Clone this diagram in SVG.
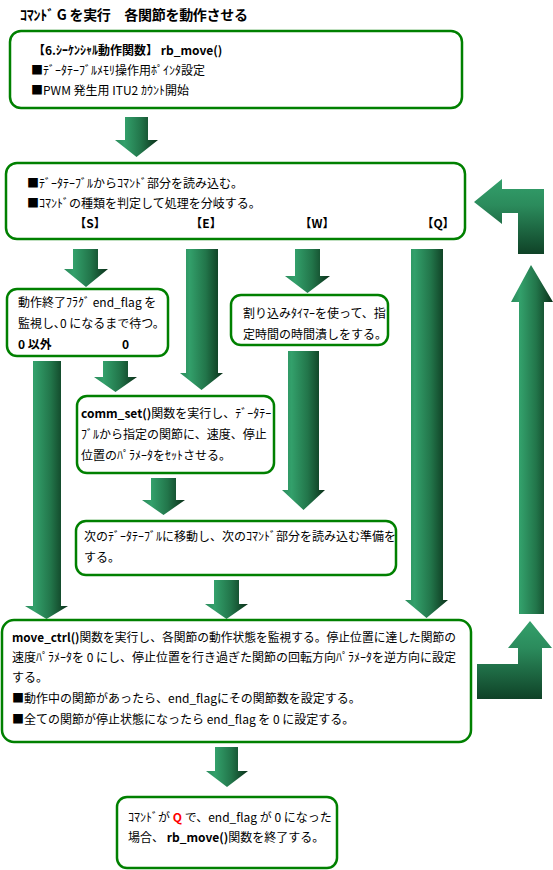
<svg xmlns="http://www.w3.org/2000/svg" width="553" height="870" viewBox="0 0 553 870">
<style>
.box{fill:#fff;stroke:#008000;stroke-width:2.5}
.t{font-family:"Noto Sans CJK JP","Noto Sans CJK SC",sans-serif;font-size:12px;fill:#000}
.b{font-weight:bold}
.title{font-family:"Noto Sans CJK JP",sans-serif;font-size:14px;font-weight:bold;fill:#000}
.ah{fill:url(#gh)}
.av{fill:url(#gv)}
</style>
<defs>
<linearGradient id="gh" x1="0" y1="0" x2="1" y2="0">
<stop offset="0" stop-color="#2b8b5c"/>
<stop offset="0.22" stop-color="#33a06b"/>
<stop offset="0.6" stop-color="#22754a"/>
<stop offset="1" stop-color="#0a3019"/>
</linearGradient>
<linearGradient id="gv" x1="0" y1="0" x2="0" y2="1">
<stop offset="0" stop-color="#33a06b"/>
<stop offset="0.35" stop-color="#2b8b5c"/>
<stop offset="1" stop-color="#0f4227"/>
</linearGradient>
</defs>
<rect width="553" height="870" fill="#fff"/>

<text class="title" x="20" y="20" textLength="228" lengthAdjust="spacing">ｺﾏﾝﾄﾞ G を実行　各関節を動作させる</text>

<g id="connectors">
<polygon class="ah" points="125,117 148,117 148,140 158,140 136.5,157 115,140 125,140"/>
<polygon class="ah" points="73,249 98,249 98,269 108,269 86,287 64,269 73,269"/>
<polygon class="ah" points="186,249 218,249 218,373 223,373 201.5,390 180,373 186,373"/>
<polygon class="ah" points="295,249 320,249 320,276 330,276 307.5,293 285,276 295,276"/>
<polygon class="ah" points="411,249 443,249 443,600 448,600 426.5,618 405,600 411,600"/>
<polygon class="ah" points="33,361 61,361 61,606 68,606 46.5,619 25,606 33,606"/>
<polygon class="ah" points="103,361 128,361 128,377 137,377 115.5,392 94,377 103,377"/>
<polygon class="ah" points="288,351 319,351 319,490 325,490 303.5,510 282,490 288,490"/>
<polygon class="ah" points="151,478 176,478 176,500 185,500 163.5,515 142,500 151,500"/>
<polygon class="ah" points="214,580 239,580 239,604 248,604 226.5,619 205,604 214,604"/>
<polygon class="ah" points="215,747 238,747 238,771 248,771 227,787 206,771 215,771"/>
<polygon class="av" points="474,202 502,179 502,189 544,189 544,254 518,254 518,213 502,213 502,224"/>
<polygon class="ah" points="531,265 553,302 544,302 544,614 519,614 519,302 511,302"/>
<polygon class="av" points="530,621 552,648 542,648 542,699 477,699 477,664 518,664 518,648 508,648"/>
</g>

<g id="n1">
<rect class="box" x="10" y="31" width="452" height="77" rx="11"/>
<text class="t b" x="33" y="55">【6.ｼｰｹﾝｼｬﾙ動作関数】 rb_move()</text>
<text class="t" x="31" y="75">■ﾃﾞｰﾀﾃｰﾌﾞﾙﾒﾓﾘ操作用ﾎﾟｲﾝﾀ設定</text>
<text class="t" x="31" y="95">■PWM 発生用 ITU2 ｶｳﾝﾄ開始</text>
</g>

<g id="n2">
<rect class="box" x="6" y="163" width="459" height="76" rx="11"/>
<text class="t" x="27" y="188">■ﾃﾞｰﾀﾃｰﾌﾞﾙからｺﾏﾝﾄﾞ部分を読み込む。</text>
<text class="t" x="27" y="208">■ｺﾏﾝﾄﾞの種類を判定して処理を分岐する。</text>
<text class="t b" x="90" y="228" text-anchor="middle">【S】</text>
<text class="t b" x="206" y="228" text-anchor="middle">【E】</text>
<text class="t b" x="317" y="228" text-anchor="middle">【W】</text>
<text class="t b" x="438" y="228" text-anchor="middle">【Q】</text>
</g>

<g id="nS">
<rect class="box" x="7" y="289" width="161" height="67" rx="10"/>
<text class="t" x="18" y="307">動作終了ﾌﾗｸﾞ end_flag を</text>
<text class="t" x="18" y="328">監視し､0 になるまで待つ。</text>
<text class="t b" x="18" y="349">0 以外</text>
<text class="t b" x="122" y="349">0</text>
</g>

<g id="nW">
<rect class="box" x="231" y="295" width="157" height="50" rx="10"/>
<text class="t" x="243" y="318">割り込みﾀｲﾏｰを使って、指</text>
<text class="t" x="243" y="339">定時間の時間潰しをする。</text>
</g>

<g id="nC">
<rect class="box" x="77" y="396" width="197" height="77" rx="10"/>
<text class="t" x="81" y="418"><tspan class="b">comm_set()</tspan>関数を実行し、ﾃﾞｰﾀﾃｰ</text>
<text class="t" x="81" y="439">ﾌﾞﾙから指定の関節に、速度、停止</text>
<text class="t" x="81" y="460">位置のﾊﾟﾗﾒｰﾀをｾｯﾄさせる。</text>
</g>

<g id="nN">
<rect class="box" x="76" y="521" width="320" height="54" rx="10"/>
<text class="t" x="84" y="541">次のﾃﾞｰﾀﾃｰﾌﾞﾙに移動し、次のｺﾏﾝﾄﾞ部分を読み込む準備を</text>
<text class="t" x="84" y="562">する。</text>
</g>

<g id="nM">
<rect class="box" x="2" y="620" width="469" height="122" rx="12"/>
<text class="t" x="12" y="642" textLength="444" lengthAdjust="spacingAndGlyphs"><tspan class="b">move_ctrl()</tspan>関数を実行し、各関節の動作状態を監視する。停止位置に達した関節の</text>
<text class="t" x="12" y="662">速度ﾊﾟﾗﾒｰﾀを 0 にし、停止位置を行き過ぎた関節の回転方向ﾊﾟﾗﾒｰﾀを逆方向に設定</text>
<text class="t" x="12" y="682">する。</text>
<text class="t" x="12" y="703">■動作中の関節があったら、end_flagにその関節数を設定する。</text>
<text class="t" x="12" y="724">■全ての関節が停止状態になったら end_flag を 0 に設定する。</text>
</g>

<g id="nQ">
<rect class="box" x="117" y="797" width="220" height="71" rx="10"/>
<text class="t" x="128" y="822">ｺﾏﾝﾄﾞが <tspan class="b" fill="#ff0000">Q</tspan> で、end_flag が 0 になった</text>
<text class="t" x="128" y="842">場合、 <tspan class="b">rb_move()</tspan>関数を終了する。</text>
</g>
</svg>
